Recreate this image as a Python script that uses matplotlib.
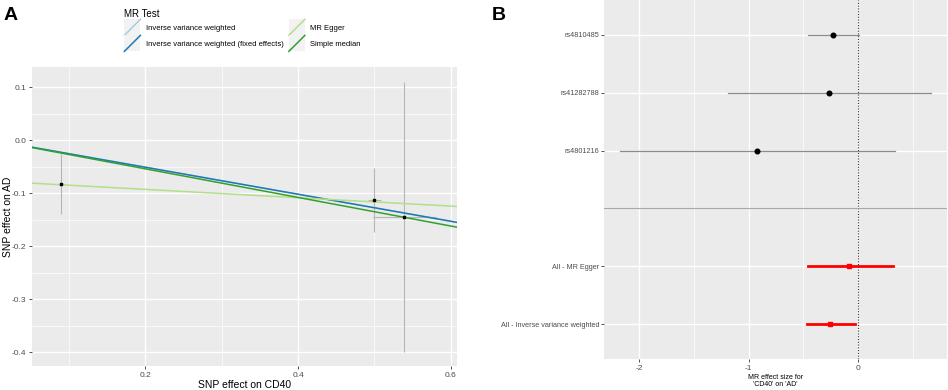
import numpy as np
import matplotlib
matplotlib.use("Agg")
import matplotlib.pyplot as plt
from matplotlib.lines import Line2D
from matplotlib.patches import Rectangle
from matplotlib.legend_handler import HandlerBase
from matplotlib.ticker import MultipleLocator

plt.rcParams['font.family'] = ['Liberation Sans', 'DejaVu Sans']

# ---- panel A data: SNP effects ----
snp_x = [0.090, 0.500, 0.539]
snp_y = [-0.083, -0.113, -0.145]
snp_xse = [0.004, 0.008, 0.041]
snp_yse = [0.056, 0.061, 0.255]

methods = ['Inverse variance weighted', 'Inverse variance weighted (fixed effects)',
           'MR Egger', 'Simple median']
intercepts = [0.0, 0.0, -0.077, 0.0]
slopes = [-0.255, -0.255, -0.079, -0.270]
method_colors = ['#A6CEE3', '#1F78B4', '#B2DF8A', '#33A02C']

# ---- panel B data: forest plot ----
forest_labels = ['rs4810485', 'rs41282788', 'rs4801216', '',
                 'All - MR Egger', 'All - Inverse variance weighted']
forest_b = [-0.227, -0.264, -0.92, np.nan, -0.08, -0.255]
forest_lo = [-0.46, -1.19, -2.17, np.nan, -0.46, -0.47]
forest_hi = [0.01, 0.66, 0.34, np.nan, 0.32, -0.03]

BG = '#EBEBEB'
TICKC = '#4D4D4D'

fig = plt.figure(figsize=(9.48, 3.90), dpi=100)


def gg_style(ax):
    ax.set_facecolor(BG)
    for s in ax.spines.values():
        s.set_visible(False)
    ax.grid(which='major', color='white', lw=1.0)
    ax.grid(which='minor', color='white', lw=0.5)
    ax.set_axisbelow(True)
    ax.tick_params(which='major', colors='#333333', labelcolor=TICKC,
                   length=2.5, width=0.6, pad=1.5)
    ax.tick_params(which='minor', length=0)


# ---------------- Panel A ----------------
axA = fig.add_axes([32 / 948, 1 - 366 / 390, 425 / 948, 299 / 390])
gg_style(axA)
axA.set_xlim(0.052, 0.608)
axA.set_ylim(-0.426, 0.138)
axA.xaxis.set_major_locator(MultipleLocator(0.2))
axA.xaxis.set_minor_locator(MultipleLocator(0.1))
axA.yaxis.set_major_locator(MultipleLocator(0.1))
axA.yaxis.set_minor_locator(MultipleLocator(0.05))
axA.set_xticks([0.2, 0.4, 0.6])
axA.set_xticklabels(['0.2', '0.4', '0.6'], fontsize=6)
axA.set_yticks([0.1, 0.0, -0.1, -0.2, -0.3, -0.4])
axA.set_yticklabels(['0.1', '0.0', '-0.1', '-0.2', '-0.3', '-0.4'], fontsize=6)

axA.errorbar(snp_x, snp_y, yerr=snp_yse, xerr=snp_xse, fmt='none',
             ecolor='#B5B5B5', elinewidth=0.8, capsize=0, zorder=2)
axA.scatter(snp_x, snp_y, s=4, marker='s', color='black', zorder=4)

handles = []
for m, a, b, c in zip(methods, intercepts, slopes, method_colors):
    axA.axline((0, a), slope=b, color=c, lw=1.1, zorder=3)
    handles.append(Line2D([], [], color=c, lw=1.1))

axA.set_xlabel('SNP effect on CD40', fontsize=7.5, va='center')
axA.set_ylabel('SNP effect on AD', fontsize=7.5, va='center')
axA.xaxis.set_label_coords(0.5, -(385 - 366) / 299)
axA.yaxis.set_label_coords(-(32 - 8) / 425, 0.5)


class KeyHandler(HandlerBase):
    # ggplot-style legend key: grey square with a diagonal line
    def create_artists(self, legend, orig_handle, xdescent, ydescent,
                       width, height, fontsize, trans):
        bg = Rectangle((-xdescent, -ydescent), width, height,
                       facecolor='#F2F2F2', edgecolor='none', transform=trans)
        ln = Line2D([-xdescent, -xdescent + width], [-ydescent, -ydescent + height],
                    color=orig_handle.get_color(), lw=orig_handle.get_linewidth(),
                    transform=trans)
        return [bg, ln]


leg = fig.legend(handles, methods, ncol=2, loc='upper left',
                 bbox_to_anchor=(119 / 948, 1 - 4 / 390), frameon=False,
                 fontsize=5.5, title='MR Test', title_fontsize=7,
                 alignment='left', handler_map={Line2D: KeyHandler()},
                 handlelength=2.1, handleheight=2.85, handletextpad=0.7,
                 labelspacing=0.0, columnspacing=0.7, borderpad=0.2)

fig.text(4 / 948, 1 - 15 / 390, 'A', fontsize=14, fontweight='bold', va='center')

# ---------------- Panel B ----------------
axB = fig.add_axes([604 / 948, 1 - 359 / 390, 343 / 948, 359 / 390])
gg_style(axB)
ypos = np.arange(len(forest_labels), 0, -1)
axB.set_xlim(-2.32, 0.81)
axB.set_ylim(0.4, len(forest_labels) + 0.6)
axB.xaxis.set_major_locator(MultipleLocator(1))
axB.xaxis.set_minor_locator(MultipleLocator(0.5))
axB.set_xticks([-2, -1, 0])
axB.set_xticklabels(['-2', '-1', '0'], fontsize=6)
show = [i for i, l in enumerate(forest_labels) if l]
axB.set_yticks(ypos[show])
axB.set_yticklabels([forest_labels[i] for i in show], fontsize=5.2)
axB.tick_params(axis='y', length=2)
axB.grid(axis='y', which='minor', visible=False)

axB.axvline(0, color='#333333', ls=(0, (1, 1.5)), lw=0.8, zorder=2)
sep = ypos[forest_labels.index('')]
axB.axhline(sep, color='#A8A8A8', lw=0.8, zorder=2)

for i in range(len(forest_labels)):
    if np.isnan(forest_b[i]):
        continue
    if forest_labels[i].startswith('All'):
        axB.plot([forest_lo[i], forest_hi[i]], [ypos[i], ypos[i]], color='red', lw=2, zorder=3)
        axB.scatter([forest_b[i]], [ypos[i]], s=7, marker='s', color='red', zorder=4)
    else:
        axB.plot([forest_lo[i], forest_hi[i]], [ypos[i], ypos[i]], color='#8C8C8C', lw=0.9, zorder=3)
        axB.scatter([forest_b[i]], [ypos[i]], s=11, color='black', zorder=4)

axB.set_xlabel("MR effect size for\n'CD40' on 'AD'", fontsize=5, labelpad=1.5, linespacing=1.0)

fig.text(492 / 948, 1 - 15 / 390, 'B', fontsize=14, fontweight='bold', va='center')

fig.savefig('out.png', dpi=100)
